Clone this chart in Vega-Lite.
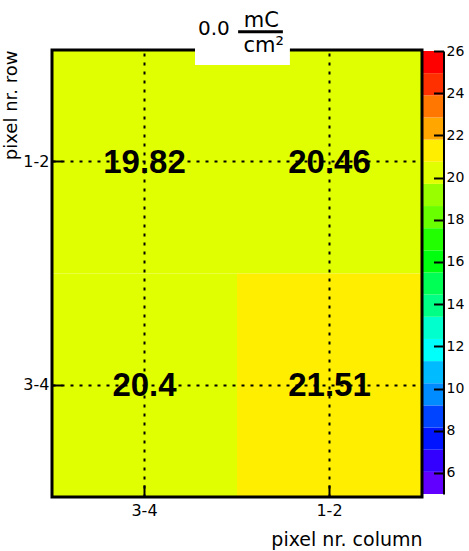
{
  "$schema": "https://vega.github.io/schema/vega-lite/v6.json",
  "width": 370,
  "height": 447,
  "autosize": {"type": "none"},
  "padding": {"left": 52, "top": 50, "right": 47, "bottom": 54},
  "background": "white",
  "config": {
    "view": {"stroke": null},
    "font": "DejaVu Sans",
    "axis": {"labelColor": "black", "titleColor": "black", "titleFontWeight": "normal", "labelFont": "DejaVu Sans", "titleFont": "DejaVu Sans"}
  },
  "datasets": {
    "cells": [
      {"col": "3-4", "row": "1-2", "value": 19.82},
      {"col": "1-2", "row": "1-2", "value": 20.46},
      {"col": "3-4", "row": "3-4", "value": 20.4},
      {"col": "1-2", "row": "3-4", "value": 21.51}
    ],
    "levels": [
      {"lo": 5, "hi": 6.05}, {"lo": 6.05, "hi": 7.1}, {"lo": 7.1, "hi": 8.15}, {"lo": 8.15, "hi": 9.2},
      {"lo": 9.2, "hi": 10.25}, {"lo": 10.25, "hi": 11.3}, {"lo": 11.3, "hi": 12.35}, {"lo": 12.35, "hi": 13.4},
      {"lo": 13.4, "hi": 14.45}, {"lo": 14.45, "hi": 15.5}, {"lo": 15.5, "hi": 16.55}, {"lo": 16.55, "hi": 17.6},
      {"lo": 17.6, "hi": 18.65}, {"lo": 18.65, "hi": 19.7}, {"lo": 19.7, "hi": 20.75}, {"lo": 20.75, "hi": 21.8},
      {"lo": 21.8, "hi": 22.85}, {"lo": 22.85, "hi": 23.9}, {"lo": 23.9, "hi": 24.95}, {"lo": 24.95, "hi": 26}
    ]
  },
  "layer": [
    {
      "data": {"name": "cells"},
      "mark": {"type": "rect"},
      "encoding": {
        "x": {
          "field": "col", "type": "nominal", "sort": ["3-4", "1-2"],
          "scale": {"domain": ["3-4", "1-2"], "paddingInner": 0, "paddingOuter": 0},
          "axis": {
            "title": "pixel nr. column", "titleAnchor": "end", "titleFontSize": 19, "titlePadding": 12,
            "labelFontSize": 16, "labelPadding": 17, "labelAngle": 0,
            "domain": false, "ticks": true, "tickSize": -12, "tickWidth": 2, "tickColor": "black",
            "grid": true, "gridColor": "black", "gridWidth": 2, "gridDash": [3, 6], "gridOpacity": 1,
            "bandPosition": 0.5, "zindex": 1
          }
        },
        "y": {
          "field": "row", "type": "nominal", "sort": ["1-2", "3-4"],
          "scale": {"domain": ["1-2", "3-4"], "paddingInner": 0, "paddingOuter": 0},
          "axis": {
            "title": "pixel nr. row", "titleAnchor": "start", "titleAlign": "right", "titleFontSize": 18, "titlePadding": 2,
            "labelFontSize": 16, "labelPadding": 13,
            "domain": false, "ticks": true, "tickSize": -10, "tickWidth": 2, "tickColor": "black",
            "grid": true, "gridColor": "black", "gridWidth": 2, "gridDash": [3, 6], "gridOpacity": 1,
            "bandPosition": 0.5, "zindex": 1
          }
        },
        "fill": {
          "field": "value", "type": "quantitative", "legend": null,
          "scale": {
            "type": "threshold",
            "domain": [6.05, 7.1, 8.15, 9.2, 10.25, 11.3, 12.35, 13.4, 14.45, 15.5, 16.55, 17.6, 18.65, 19.7, 20.75, 21.8, 22.85, 23.9, 24.95],
            "range": ["#6200ff", "#3300ff", "#0014ff", "#0044ff", "#008bff", "#00bbff", "#00fffb", "#00ffcc", "#00ff85", "#00ff55", "#00ff0e", "#22ff00", "#69ff00", "#99ff00", "#e0ff00", "#ffee00", "#ffa700", "#ff7700", "#ff3000", "#ff0000"]
          }
        }
      }
    },
    {
      "data": {"name": "cells"},
      "mark": {"type": "text", "font": "Liberation Sans", "fontWeight": "bold", "fontSize": 33, "align": "center", "baseline": "middle", "color": "black", "dy": 1},
      "encoding": {
        "x": {"field": "col", "type": "nominal", "scale": {"domain": ["3-4", "1-2"], "paddingInner": 0, "paddingOuter": 0}, "axis": null},
        "y": {"field": "row", "type": "nominal", "scale": {"domain": ["1-2", "3-4"], "paddingInner": 0, "paddingOuter": 0}, "axis": null},
        "text": {"field": "value", "type": "nominal"}
      }
    },
    {
      "data": {"name": "levels"},
      "mark": {"type": "rect"},
      "encoding": {
        "x": {"datum": 0, "type": "quantitative", "scale": {"domain": [0, 1], "range": [371, 391], "nice": false}, "axis": null},
        "x2": {"datum": 1},
        "y": {
          "field": "lo", "type": "quantitative",
          "scale": {"domain": [5, 26], "range": [444, 1], "nice": false, "zero": false},
          "axis": {
            "orient": "right", "offset": 21.5, "title": null,
            "values": [6, 8, 10, 12, 14, 16, 18, 20, 22, 24, 26],
            "domain": true, "domainColor": "black", "domainWidth": 2,
            "ticks": true, "tickSize": -10, "tickWidth": 2, "tickColor": "black",
            "labelFontSize": 14, "labelPadding": 12.5, "labelFlush": false, "labelOverlap": false,
            "grid": false, "zindex": 1
          }
        },
        "y2": {"field": "hi"},
        "fill": {
          "field": "lo", "type": "quantitative", "legend": null,
          "scale": {
            "type": "threshold",
            "domain": [6.05, 7.1, 8.15, 9.2, 10.25, 11.3, 12.35, 13.4, 14.45, 15.5, 16.55, 17.6, 18.65, 19.7, 20.75, 21.8, 22.85, 23.9, 24.95],
            "range": ["#6200ff", "#3300ff", "#0014ff", "#0044ff", "#008bff", "#00bbff", "#00fffb", "#00ffcc", "#00ff85", "#00ff55", "#00ff0e", "#22ff00", "#69ff00", "#99ff00", "#e0ff00", "#ffee00", "#ffa700", "#ff7700", "#ff3000", "#ff0000"]
          }
        }
      }
    },
    {
      "data": {"values": [{}]},
      "mark": {"type": "rect", "filled": false, "color": "black", "strokeWidth": 3},
      "encoding": {
        "x": {"datum": 0, "type": "quantitative", "scale": {"domain": [0, 1], "nice": false}, "axis": null},
        "x2": {"datum": 1},
        "y": {"datum": 0, "type": "quantitative", "scale": {"domain": [0, 1], "nice": false}, "axis": null},
        "y2": {"datum": 1}
      }
    },
    {
      "data": {"values": [{}]},
      "mark": {"type": "rect", "fill": "white", "strokeWidth": 0},
      "encoding": {
        "x": {"datum": 0.3865, "type": "quantitative", "scale": {"domain": [0, 1], "nice": false}, "axis": null},
        "x2": {"datum": 0.643},
        "y": {"datum": 1.112, "type": "quantitative", "scale": {"domain": [0, 1], "nice": false}, "axis": null},
        "y2": {"datum": 0.9664}
      }
    },
    {
      "data": {"values": [{}]},
      "mark": {"type": "text", "text": "0.0", "font": "DejaVu Sans", "fontSize": 20, "align": "left", "baseline": "alphabetic", "color": "black"},
      "encoding": {
        "x": {"datum": 0.3946, "type": "quantitative", "scale": {"domain": [0, 1], "nice": false}, "axis": null},
        "y": {"datum": 1.0336, "type": "quantitative", "scale": {"domain": [0, 1], "nice": false}, "axis": null}
      }
    },
    {
      "data": {"values": [{}]},
      "mark": {"type": "text", "text": "mC", "font": "DejaVu Sans", "fontSize": 21, "align": "center", "baseline": "alphabetic", "color": "black"},
      "encoding": {
        "x": {"datum": 0.566, "type": "quantitative", "scale": {"domain": [0, 1], "nice": false}, "axis": null},
        "y": {"datum": 1.0515, "type": "quantitative", "scale": {"domain": [0, 1], "nice": false}, "axis": null}
      }
    },
    {
      "data": {"values": [{}]},
      "mark": {"type": "rule", "color": "black", "strokeWidth": 3},
      "encoding": {
        "x": {"datum": 0.503, "type": "quantitative", "scale": {"domain": [0, 1], "nice": false}, "axis": null},
        "x2": {"datum": 0.624},
        "y": {"datum": 1.041, "type": "quantitative", "scale": {"domain": [0, 1], "nice": false}, "axis": null}
      }
    },
    {
      "data": {"values": [{}]},
      "mark": {"type": "text", "text": "cm²", "font": "DejaVu Sans", "fontSize": 21, "align": "center", "baseline": "alphabetic", "color": "black"},
      "encoding": {
        "x": {"datum": 0.572, "type": "quantitative", "scale": {"domain": [0, 1], "nice": false}, "axis": null},
        "y": {"datum": 0.9955, "type": "quantitative", "scale": {"domain": [0, 1], "nice": false}, "axis": null}
      }
    }
  ],
  "resolve": {
    "scale": {"x": "independent", "y": "independent"},
    "axis": {"x": "independent", "y": "independent"}
  }
}
